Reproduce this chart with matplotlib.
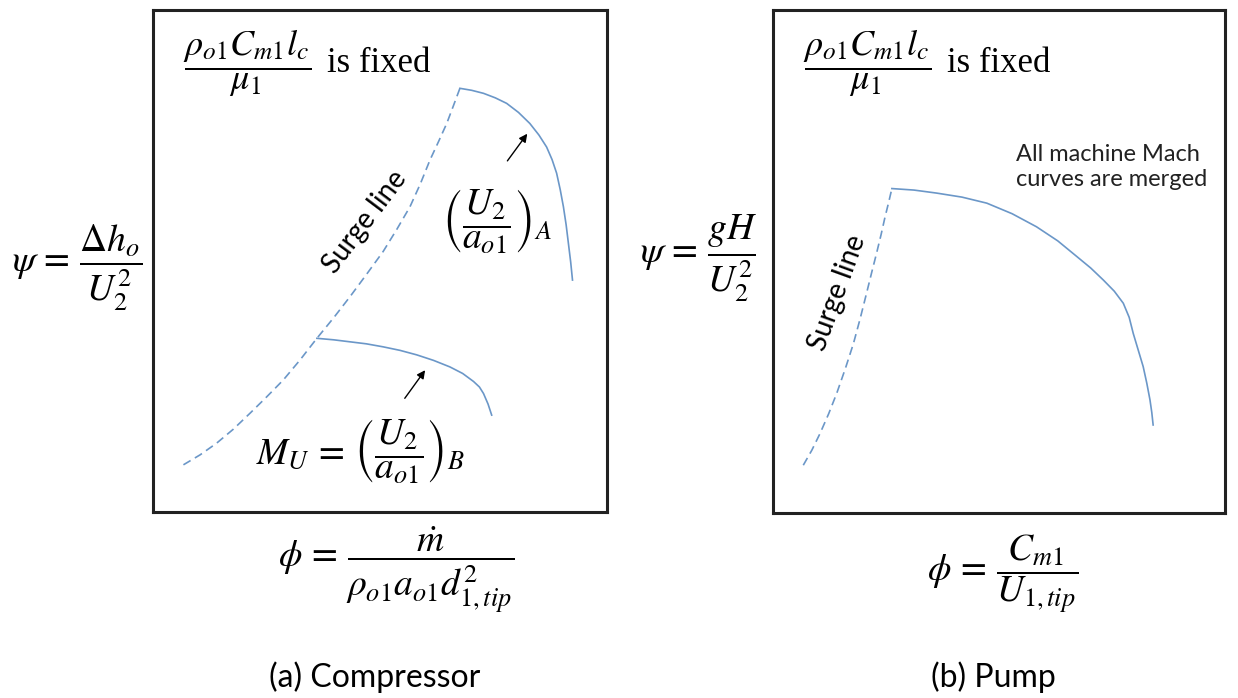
import matplotlib.pyplot as plt

plt.rcParams["mathtext.fontset"] = "stix"

W, H = 1238, 698

# curve data, in box units (0..1 along phi, 0..1 along psi)
comp_surge_phi = [0.067, 0.104, 0.140, 0.177, 0.214, 0.250, 0.287, 0.324, 0.361, 0.398, 0.434,
                  0.470, 0.507, 0.537, 0.566, 0.589, 0.610, 0.629, 0.647, 0.662, 0.676]
comp_surge_psi = [0.094, 0.114, 0.137, 0.165, 0.197, 0.229, 0.263, 0.303, 0.346, 0.387, 0.429,
                  0.473, 0.519, 0.563, 0.608, 0.654, 0.701, 0.738, 0.774, 0.810, 0.844]
comp_a_phi = [0.676, 0.702, 0.728, 0.754, 0.779, 0.805, 0.830, 0.850, 0.867, 0.879, 0.889,
              0.897, 0.904, 0.910, 0.915, 0.920, 0.924]
comp_a_psi = [0.844, 0.840, 0.834, 0.825, 0.814, 0.796, 0.774, 0.751, 0.727, 0.702, 0.675,
              0.642, 0.608, 0.572, 0.535, 0.498, 0.462]
comp_b_phi = [0.361, 0.398, 0.434, 0.470, 0.507, 0.544, 0.581, 0.618, 0.654, 0.682, 0.706,
              0.719, 0.728, 0.738, 0.746]
comp_b_psi = [0.346, 0.343, 0.339, 0.335, 0.329, 0.322, 0.313, 0.302, 0.289, 0.276, 0.260,
              0.249, 0.236, 0.215, 0.193]

pump_surge_phi = [0.067, 0.086, 0.104, 0.123, 0.141, 0.160, 0.178, 0.193, 0.207, 0.218, 0.229,
                  0.239, 0.248, 0.256, 0.263]
pump_surge_psi = [0.095, 0.125, 0.158, 0.197, 0.238, 0.287, 0.337, 0.387, 0.437, 0.477, 0.516,
                  0.553, 0.589, 0.618, 0.645]
pump_phi = [0.263, 0.312, 0.362, 0.418, 0.473, 0.529, 0.583, 0.630, 0.672, 0.703, 0.731,
            0.755, 0.775, 0.788, 0.797, 0.808, 0.819, 0.827, 0.834, 0.838, 0.841]
pump_psi = [0.645, 0.642, 0.636, 0.628, 0.616, 0.595, 0.569, 0.541, 0.510, 0.487, 0.463,
            0.441, 0.417, 0.389, 0.357, 0.324, 0.291, 0.258, 0.225, 0.200, 0.175]

line_col = "#6b97c8"
serif = "Liberation Serif"
sans = "Lato"


def px(x, y):
    return x / W, 1 - y / H


def box(x0, y0, x1, y1):
    ax = fig.add_axes([x0 / W, 1 - y1 / H, (x1 - x0) / W, (y1 - y0) / H])
    ax.set_xlim(0, 1)
    ax.set_ylim(0, 1)
    ax.set_xticks([])
    ax.set_yticks([])
    for s in ax.spines.values():
        s.set_linewidth(2.2)
        s.set_color("#222222")
    return ax


fig = plt.figure(figsize=(W / 100, H / 100), dpi=100)

# (a) compressor
ax1 = box(153, 10, 607, 512)
ax1.plot(comp_surge_phi, comp_surge_psi, color=line_col, lw=1.2, ls=(0, (5, 3)))
ax1.plot(comp_a_phi, comp_a_psi, color=line_col, lw=1.2)
ax1.plot(comp_b_phi, comp_b_psi, color=line_col, lw=1.2)
ax1.annotate("", xy=(0.828, 0.758), xytext=(0.777, 0.695),
             arrowprops=dict(arrowstyle="-|>", color="black", lw=1, mutation_scale=12))
ax1.annotate("", xy=(0.603, 0.287), xytext=(0.551, 0.222),
             arrowprops=dict(arrowstyle="-|>", color="black", lw=1, mutation_scale=12))

# (b) pump
ax2 = box(773, 10, 1225, 513)
ax2.plot(pump_surge_phi, pump_surge_psi, color=line_col, lw=1.2, ls=(0, (5, 3)))
ax2.plot(pump_phi, pump_psi, color=line_col, lw=1.2)

fs = 27
for x0 in (183, 803):
    fig.text(*px(x0, 63), r"$\dfrac{\rho_{o1}C_{m1}l_c}{\mu_1}$", fontsize=26,
             ha="left", va="center")
    fig.text(*px(x0 + 144, 63), "is fixed", fontsize=25, ha="left", va="center",
             family=serif)

fig.text(*px(12, 268), r"$\psi\,=\,\dfrac{\Delta h_o}{U_2^2}$", fontsize=fs, ha="left", va="center")
fig.text(*px(640, 258), r"$\psi\,=\,\dfrac{gH}{U_2^2}$", fontsize=fs, ha="left", va="center")

fig.text(*px(396, 570), r"$\phi\,=\,\dfrac{\dot{m}}{\rho_{o1}a_{o1}d_{1,tip}^2}$", fontsize=fs,
         ha="center", va="center")
fig.text(*px(1003, 574), r"$\phi\,=\,\dfrac{C_{m1}}{U_{1,tip}}$", fontsize=fs,
         ha="center", va="center")

fig.text(*px(442, 222), r"$\left(\dfrac{U_2}{a_{o1}}\right)_A$", fontsize=fs, ha="left", va="center")
fig.text(*px(256, 452), r"$M_U\,=\,\left(\dfrac{U_2}{a_{o1}}\right)_B$", fontsize=fs,
         ha="left", va="center")

fig.text(*px(365, 222), "Surge line", fontsize=20, family=sans, rotation=53,
         ha="center", va="center", rotation_mode="anchor")
fig.text(*px(837, 293), "Surge line", fontsize=20, family=sans, rotation=70,
         ha="center", va="center", rotation_mode="anchor")
fig.text(*px(1016, 167), "All machine Mach\ncurves are merged", fontsize=17, family=sans,
         ha="left", va="center", linespacing=1.25, color="#222222")

fig.text(*px(375, 677), "(a) Compressor", fontsize=23, family=sans, ha="center", va="center")
fig.text(*px(993, 677), "(b) Pump", fontsize=23, family=sans, ha="center", va="center")

fig.savefig("out.png", dpi=100)
